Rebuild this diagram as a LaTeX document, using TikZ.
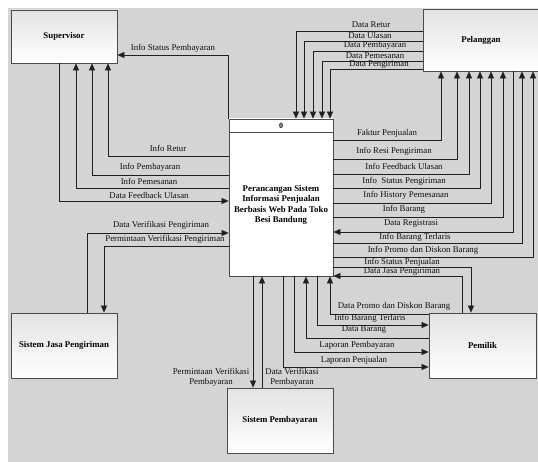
\documentclass[tikz,border=0pt]{standalone}
\usepackage{fontspec}
\setmainfont{Liberation Serif}
\usetikzlibrary{arrows.meta,shadows}

\tikzset{
  entity/.style = {draw = gray!60!black, line width = 0.8pt, top color = gray!22, bottom color = white, drop shadow = {opacity = 0.4, shadow xshift = 1.2pt, shadow yshift = -1.2pt}, font = \bfseries\fontsize{8.8}{10.5}\selectfont, inner sep = 0pt},
  dataflow/.style = {draw = gray!25!black, line width = 0.6pt, -{Triangle[length = 7pt, width = 6pt]}},
  lbl/.style = {font = \fontsize{8.8}{10}\selectfont, text = gray!10!black, inner sep = 0.5pt, align = center}
}

\begin{document}
\begin{tikzpicture}[x = 1pt, y = -1pt]
\useasboundingbox (0, 0) rectangle (538, 462);
\fill [gray!34] (8, 8) rectangle (538, 462);
%\draw[very thin, color = white](0, 0) grid [step = 50] (538, 462);

% entities and the process
\node [entity, minimum width = 106pt, minimum height = 53pt] (sup) at (64, 36.5) {Supervisor};
\node [entity, minimum width = 116pt, minimum height = 62pt] (pel) at (481, 40) {Pelanggan};
\node [entity, minimum width = 106pt, minimum height = 65pt] (sjp) at (64, 345.5) {Sistem Jasa Pengiriman};
\node [entity, minimum width = 106pt, minimum height = 65pt] (spb) at (280, 420.5) {Sistem Pembayaran};
\node [entity, minimum width = 107pt, minimum height = 65pt] (pem) at (482.5, 345.5) {Pemilik};
\node [entity, top color = white, minimum width = 104pt, minimum height = 157pt] (proc) at (281, 197.5) {};
\draw [gray!60!black, line width = 0.8pt] (proc.north west) ++(0, 14) -- ++(104, 0);
\node [font = \bfseries\fontsize{8}{9}\selectfont] (procnum) at (281, 126) {0};
\node [font = \bfseries\fontsize{8.8}{10.5}\selectfont, align = center] (proctext) at (281, 205) {Perancangan Sistem\\Informasi Penjualan\\Berbasis Web Pada Toko\\Besi Bandung};

% supervisor
\draw [dataflow] (proc.north west) |- (sup.east |- 0, 55);
\draw [dataflow] (proc.west |- 0, 156) -| (sup.south -| 108, 0);
\draw [dataflow] (proc.west |- 0, 175) -| (sup.south -| 92, 0);
\draw [dataflow] (proc.west |- 0, 188) -| (sup.south -| 76, 0);
\draw [dataflow] (sup.south -| 59, 0) |- (proc.west |- 0, 201);
\node [lbl] (lstatbayar) at (173, 48) {Info Status Pembayaran};
\node [lbl] (lretur) at (168, 148) {Info Retur};
\node [lbl] (linfobayar) at (150, 167) {Info Pembayaran};
\node [lbl] (linfopesan) at (149, 181) {Info Pemesanan};
\node [lbl] (lfeedback) at (149, 195) {Data Feedback Ulasan};

% sistem jasa pengiriman
\draw [dataflow] (sjp.north -| 87, 0) |- (proc.west |- 0, 233);
\draw [dataflow] (proc.west |- 0, 246) -| (sjp.north -| 104, 0);
\node [lbl] (lverkirim) at (161, 225) {Data Verifikasi Pengiriman};
\node [lbl] (lmintakirim) at (165, 239) {Permintaan Verifikasi Pengiriman};

% sistem pembayaran
\draw [dataflow] (proc.south -| 253, 0) -- (spb.north -| 253, 0);
\draw [dataflow] (spb.north -| 262, 0) -- (proc.south -| 262, 0);
\node [lbl] (lmintabayar) at (211, 377) {Permintaan Verifikasi\\Pembayaran};
\node [lbl] (lverbayar) at (292, 377) {Data Verifikasi\\Pembayaran};

% pelanggan to process
\draw [dataflow] (pel.west |- 0, 31) -| (proc.north -| 296, 0);
\draw [dataflow] (pel.west |- 0, 41) -| (proc.north -| 304, 0);
\draw [dataflow] (pel.west |- 0, 51) -| (proc.north -| 313, 0);
\draw [dataflow] (pel.west |- 0, 61) -| (proc.north -| 322, 0);
\draw [dataflow] (pel.west |- 0, 69) -| (proc.north -| 330, 0);
\node [lbl] (ldretur) at (371, 25) {Data Retur};
\node [lbl] (ldulasan) at (370, 35) {Data Ulasan};
\node [lbl] (ldbayar) at (375, 45) {Data Pembayaran};
\node [lbl] (ldpesan) at (375, 55.5) {Data Pemesanan};
\node [lbl] (ldkirim) at (379, 64.5) {Data Pengiriman};

% process to pelanggan
\draw [dataflow] (proc.east |- 0, 140) -| (pel.south -| 441, 0);
\draw [dataflow] (proc.east |- 0, 159) -| (pel.south -| 457, 0);
\draw [dataflow] (proc.east |- 0, 174) -| (pel.south -| 469, 0);
\draw [dataflow] (proc.east |- 0, 188) -| (pel.south -| 480, 0);
\draw [dataflow] (proc.east |- 0, 203) -| (pel.south -| 491, 0);
\draw [dataflow] (proc.east |- 0, 217) -| (pel.south -| 503, 0);
\draw [dataflow] (pel.south -| 513, 0) |- (proc.east |- 0, 232);
\draw [dataflow] (proc.east |- 0, 243) -| (pel.south -| 522, 0);
\draw [dataflow] (proc.east |- 0, 257) -| (pel.south -| 533, 0);
\node [lbl] (lfaktur) at (387, 133) {Faktur Penjualan};
\node [lbl] (lresi) at (394, 151) {Info Resi Pengiriman};
\node [lbl] (lifeed) at (404, 166) {Info Feedback Ulasan};
\node [lbl] (listatkirim) at (404, 181) {Info~ Status Pengiriman};
\node [lbl] (lhistory) at (406, 195) {Info History Pemesanan};
\node [lbl] (libarang) at (404, 209) {Info Barang};
\node [lbl] (lregis) at (411, 224) {Data Registrasi};
\node [lbl] (lterlaris) at (415, 237) {Info Barang Terlaris};
\node [lbl] (lpromo) at (423, 250) {Info Promo dan Diskon Barang};

% pemilik
\draw [dataflow] (proc.east |- 0, 267) -| (pem.north -| 471, 0);
\draw [dataflow] (pem.north -| 462, 0) |- (proc.east |- 0, 276);
\draw [dataflow] (pem.west |- 0, 314) -| (proc.south -| 330, 0);
\draw [dataflow] (proc.south -| 317, 0) |- (pem.west |- 0, 325);
\draw [dataflow] (pem.west |- 0, 338) -| (proc.south -| 306, 0);
\draw [dataflow] (proc.south -| 294, 0) |- (pem.west |- 0, 352);
\draw [dataflow] (proc.south -| 283, 0) |- (pem.west |- 0, 367);
\node [lbl] (lstatjual) at (402, 262) {Info Status Penjualan};
\node [lbl] (ljasa) at (402, 272) {Data Jasa Pengiriman};
\node [lbl] (ldpromo) at (394, 306) {Data Promo dan Diskon Barang};
\node [lbl] (lterlaris2) at (370, 318) {Info Barang Terlaris};
\node [lbl] (ldbarang) at (364, 330) {Data Barang};
\node [lbl] (llapbayar) at (357, 345) {Laporan Pembayaran};
\node [lbl] (llapjual) at (354, 360) {Laporan Penjualan};
\end{tikzpicture}
\end{document}
